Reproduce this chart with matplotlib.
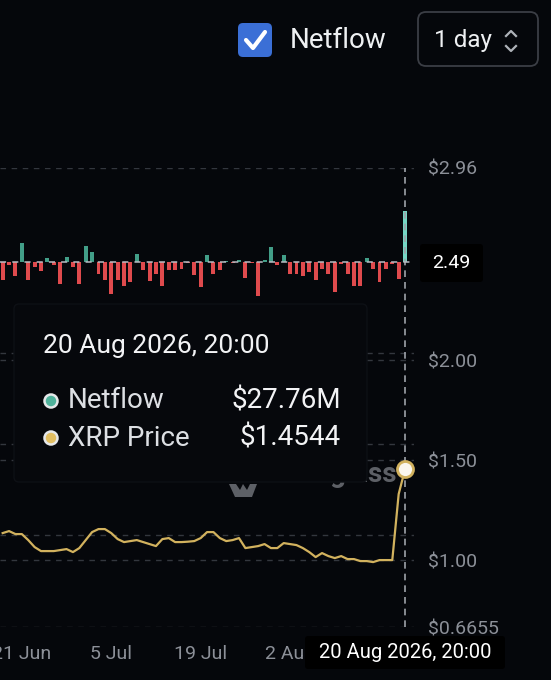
"""Netflow vs XRP price chart, dark theme screenshot recreation."""
import matplotlib
matplotlib.use("Agg")
import matplotlib.pyplot as plt
import matplotlib.dates as mdates
import pandas as pd
from matplotlib.patches import FancyBboxPatch, Circle, Polygon

BG = "#05070b"
GRID = "#33373e"
TICK_GREY = "#8c9098"
RED = "#df4a4d"
GREEN = "#429e88"
GREEN_HI = "#74d6c4"
GOLD = "#d2b25e"

plt.rcParams["font.family"] = ["Roboto", "DejaVu Sans"]

# ── data ──────────────────────────────────────────────────────────────────────
start_date = "2026-06-18"
netflow_m = [
    -10.1, -1.6, -7.9, 10.6, -9.7, -2.7, -4.9, 2.2, -1.8, -11.9,
    2.7, -2.7, -11.9, 8.8, 5.3, -6.8, -9.7, -17.4, -9.7, -13.4,
    -11.0, 4.2, -4.6, -10.6, -6.4, -13.4, -4.6, -4.6, -3.7, -0.8,
    -7.3, -13.7, 3.7, -6.8, -4.6, 0.5, -0.8, 0.8, -8.6, -0.8,
    -18.8, 1.1, 8.2, -1.6, 3.7, -6.8, -6.4, -7.9, -5.5, -9.7,
    -3.7, -6.4, -16.5, -1.1, -6.8, -13.4, -13.4, 2.4, -3.7, -11.0,
    -3.7, -1.1, -9.2, 27.76,
]
xrp_price = [
    1.135, 1.145, 1.13, 1.13, 1.10, 1.065, 1.045, 1.045, 1.045, 1.05,
    1.055, 1.04, 1.06, 1.10, 1.14, 1.155, 1.155, 1.135, 1.105, 1.09,
    1.095, 1.10, 1.09, 1.08, 1.07, 1.105, 1.11, 1.09, 1.09, 1.092,
    1.095, 1.11, 1.14, 1.14, 1.11, 1.095, 1.10, 1.11, 1.06, 1.065,
    1.07, 1.08, 1.06, 1.06, 1.085, 1.08, 1.075, 1.06, 1.04, 1.015,
    1.035, 1.02, 1.01, 1.02, 1.005, 1.005, 0.995, 0.995, 0.99, 1.0,
    1.0, 1.0, 1.33, 1.4544,
]
x_tick_dates = ["2026-06-21", "2026-07-05", "2026-07-19", "2026-08-02"]
x_tick_labels = ["21 Jun", "5 Jul", "19 Jul", "2 Aug"]
price_ticks = [0.6655, 1.0, 1.5, 2.0, 2.96]
price_tick_labels = ["$0.6655", "$1.00", "$1.50", "$2.00", "$2.96"]
netflow_grid = [-150, -100, -50]
cursor_price = 2.49
cursor_label = "20 Aug 2026, 20:00"
tip_netflow = "$27.76M"
tip_price = "$1.4544"

dates = pd.date_range(start_date, periods=len(netflow_m), freq="D")

# ── figure / axes ─────────────────────────────────────────────────────────────
W, H = 551, 680
fig = plt.figure(figsize=(W / 100, H / 100), dpi=100, facecolor=BG)
ax = fig.add_axes([0, 1 - 627 / H, 414 / W, (627 - 168) / H])
ax_flow = ax.twinx()
ax.set_zorder(2)
ax.patch.set_visible(False)
ax_flow.patch.set_visible(False)

for a in (ax, ax_flow):
    for s in a.spines.values():
        s.set_visible(False)

xnum = mdates.date2num(dates)
ax.set_xlim(xnum[0] - 0.42, xnum[-1] + 1.4)
ax.set_ylim(0.6655, 2.96)
ax_flow.set_ylim(-200.5, 51.6)

# netflow bars
colors = [GREEN if v >= 0 else RED for v in netflow_m]
colors[-1] = GREEN_HI
ax_flow.bar(xnum, netflow_m, width=0.62, color=colors, linewidth=0, zorder=2)
for g in netflow_grid:
    ax_flow.axhline(g, color=GRID, lw=1, dashes=(4, 4), zorder=1)

# price line
for p in price_ticks:
    ax.axhline(p, color=GRID, lw=1, dashes=(4, 4), zorder=1)
ax.plot(xnum, xrp_price, color=GOLD, lw=1.6, zorder=3, solid_joinstyle="round")

# crosshair
ax.axvline(xnum[-1], color="#9ea2a9", lw=1.2, dashes=(4, 3), zorder=4)
ax.axhline(cursor_price, color="#b9bcc2", lw=1.1, dashes=(4, 4), zorder=4)
ax.plot(xnum[-1], xrp_price[-1], "o", ms=11.5, mfc="#fbf7ee", mec=GOLD, mew=2, zorder=6)

# ticks
ax.yaxis.tick_right()
ax.set_yticks(price_ticks)
ax.set_yticklabels(price_tick_labels)
ax.tick_params(axis="y", length=0, pad=10, labelsize=14, labelcolor=TICK_GREY)
ax_flow.set_yticks([])
ax.set_xticks(mdates.date2num(pd.to_datetime(x_tick_dates)))
ax.set_xticklabels(x_tick_labels)
ax.tick_params(axis="x", length=0, pad=13, labelsize=14, labelcolor=TICK_GREY)

# ── overlay in pixel coordinates ──────────────────────────────────────────────
ov = fig.add_axes([0, 0, 1, 1], zorder=10)
ov.set_xlim(0, W)
ov.set_ylim(H, 0)
ov.axis("off")
ov.patch.set_visible(False)

# watermark (mostly behind the tooltip)
ov.text(397, 482, "coinglass", fontsize=20, fontweight="bold", color="#5d6066",
        ha="right", va="baseline", zorder=1)
ov.add_patch(Polygon([(229, 484), (236, 484), (240, 490), (243, 484), (247, 490),
                      (250, 484), (257, 484), (252, 497), (235, 497)],
                     closed=True, fc="#5d6066", ec="none", zorder=1))

# tooltip
ov.add_patch(FancyBboxPatch((14, 304), 353, 178, boxstyle="round,pad=0,rounding_size=5",
                            fc="#06080c", ec="#0d1015", lw=1, zorder=2))
ov.text(43, 346, cursor_label, fontsize=19, color="#f2f3f5", va="center", zorder=3)
ov.add_patch(Circle((51, 401), 6.5, fc="#4fb29b", ec="#e6e8ea", lw=1.8, zorder=3))
ov.add_patch(Circle((51, 438), 6.5, fc="#e2bf62", ec="#e6e8ea", lw=1.8, zorder=3))
ov.text(68, 401, "Netflow", fontsize=20, color="#dcdfe3", va="center", zorder=3)
ov.text(68, 438, "XRP Price", fontsize=20, color="#dcdfe3", va="center", zorder=3)
ov.text(341, 401, tip_netflow, fontsize=20, color="#f2f3f5", va="center", ha="right", zorder=3)
ov.text(341, 438, tip_price, fontsize=20, color="#f2f3f5", va="center", ha="right", zorder=3)

# crosshair value labels
ov.add_patch(FancyBboxPatch((420, 244), 63, 38, boxstyle="round,pad=0,rounding_size=3",
                            fc="#000000", ec="none", zorder=2))
ov.text(451.5, 263, f"{cursor_price:.2f}", fontsize=14, color="#ffffff",
        ha="center", va="center", zorder=3)
ov.add_patch(FancyBboxPatch((305, 636), 200, 33, boxstyle="round,pad=0,rounding_size=3",
                            fc="#000000", ec="none", zorder=2))
ov.text(405, 652, cursor_label, fontsize=14.5, color="#ffffff",
        ha="center", va="center", zorder=3)

# top controls
ov.add_patch(FancyBboxPatch((238, 23), 34, 34, boxstyle="round,pad=0,rounding_size=5",
                            fc="#3b6fd6", ec="none", zorder=2))
ov.plot([246, 253, 265], [40, 48, 32], color="white", lw=3, solid_capstyle="round",
        solid_joinstyle="round", zorder=3)
ov.text(290, 41, "Netflow", fontsize=20, color="#eef0f2", va="center", zorder=3)
ov.add_patch(FancyBboxPatch((418, 12), 120, 54, boxstyle="round,pad=0,rounding_size=8",
                            fc="none", ec="#3b3e45", lw=1.3, zorder=2))
ov.text(434, 41, "1 day", fontsize=17.5, color="#eef0f2", va="center", zorder=3)
ov.plot([506, 511, 516], [36, 31, 36], color="#aeb2b8", lw=1.6, zorder=3)
ov.plot([506, 511, 516], [46, 51, 46], color="#aeb2b8", lw=1.6, zorder=3)

fig.savefig("out.png", dpi=100, facecolor=BG)
plt.close(fig)
